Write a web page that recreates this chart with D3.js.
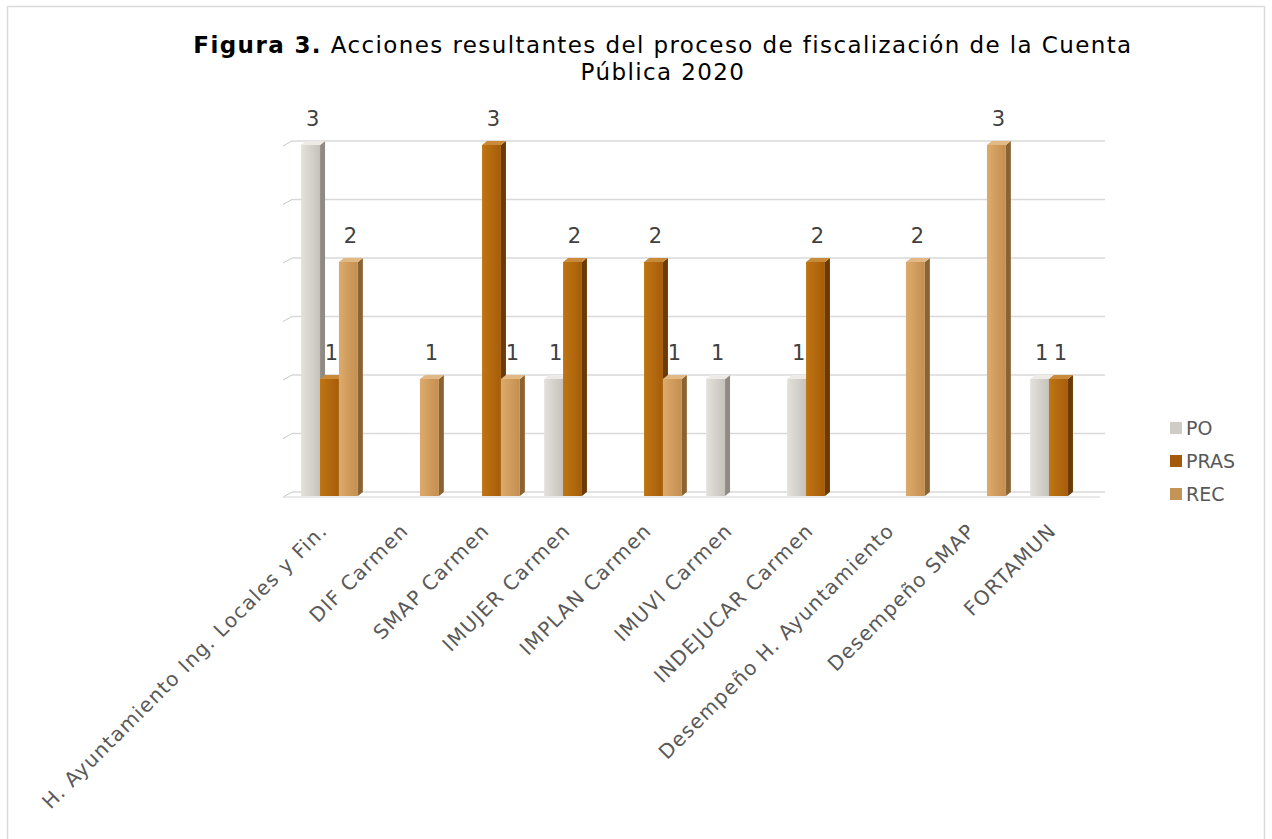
<!DOCTYPE html>
<html><head><meta charset="utf-8">
<script src="https://cdn.jsdelivr.net/npm/d3@7"></script>
<style>html,body{margin:0;padding:0;background:#fff;}svg{display:block;}</style>
</head><body>
<svg id="c" width="1272" height="839"></svg>
<script>
const categories = ["H. Ayuntamiento Ing. Locales y Fin.", "DIF Carmen", "SMAP Carmen", "IMUJER Carmen", "IMPLAN Carmen", "IMUVI Carmen", "INDEJUCAR Carmen", "Desempeño H. Ayuntamiento", "Desempeño SMAP", "FORTAMUN"];
const seriesNames = ["PO", "PRAS", "REC"];
const PO   = [3, null, null, 1, null, 1, 1, null, null, 1];
const PRAS = [1, null, 3, 2, 2, null, 2, null, null, 1];
const REC  = [2, 1, 1, null, 1, null, null, 2, 3, null];
const gridTicks = [0, 0.5, 1, 1.5, 2, 2.5, 3];

const values = [PO, PRAS, REC];
const colors = {
  PO:   {l:"#e4e1dc", r:"#c6c2bb", side:"#8f8b84", top:"#eeebe6", leg:"#cfcbc5"},
  PRAS: {l:"#bf7512", r:"#a65d0a", side:"#6a3b06", top:"#c98a3a", leg:"#a35a0b"},
  REC:  {l:"#dcab6c", r:"#c48e50", side:"#8a6332", top:"#e2b985", leg:"#c49356"}
};
const font = "'DejaVu Sans', sans-serif";
const svg = d3.select("#c");
const defs = svg.append("defs");
seriesNames.forEach(s => {
  const g = defs.append("linearGradient").attr("id","g"+s).attr("x1","0").attr("x2","1").attr("y1","0").attr("y2","0");
  g.append("stop").attr("offset","0").attr("stop-color",colors[s].l);
  g.append("stop").attr("offset","1").attr("stop-color",colors[s].r);
});

// outer border
svg.append("rect").attr("x",7.5).attr("y",6.5).attr("width",1257).attr("height",840)
  .attr("fill","none").attr("stroke","#d9d9d9").attr("stroke-width",1.5);

// title
const title = svg.append("text").attr("x",663).attr("y",53).attr("text-anchor","middle")
  .style("font-family",font).style("font-size","23px").style("letter-spacing","1.4px").attr("fill","#000");
title.append("tspan").attr("font-weight","bold").text("Figura 3.");
title.append("tspan").text(" Acciones resultantes del proceso de fiscalización de la Cuenta");
svg.append("text").attr("x",663).attr("y",80).attr("text-anchor","middle")
  .style("font-family",font).style("font-size","23px").style("letter-spacing","1.4px").attr("fill","#000").text("Pública 2020");

const x = d3.scaleBand().domain(categories).range([289, 1099]).paddingInner(0.3).paddingOuter(0.15);
const xs = d3.scaleBand().domain(seriesNames).range([0, x.bandwidth()]);
const y = d3.scaleLinear().domain([0, 3]).range([496, 145]);
const dx = 5, dy = 4;

// gridlines (back wall) with small slanted depth ticks
gridTicks.forEach(t => {
  const yy = y(t) - dy;
  svg.append("line").attr("x1",292).attr("x2",1105).attr("y1",yy).attr("y2",yy)
    .attr("stroke","#d9d9d9").attr("stroke-width",1.3);
  svg.append("line").attr("x1",283).attr("x2",292).attr("y1",yy+5).attr("y2",yy)
    .attr("stroke","#c8c8c8").attr("stroke-width",1);
});
svg.append("line").attr("x1",283).attr("x2",1100).attr("y1",y(0)+1).attr("y2",y(0)+1)
  .attr("stroke","#e2e2e2").attr("stroke-width",1.5);

// bars
const bars = [];
categories.forEach((c, i) => {
  seriesNames.forEach((s, k) => {
    const v = values[k][i];
    if (v != null) bars.push({c, s, v});
  });
});
const bw = xs.bandwidth();
const gb = svg.append("g");
bars.forEach(d => {
  const x0 = x(d.c) + xs(d.s), x1 = x0 + bw, y0 = y(d.v), yb = y(0);
  gb.append("path").attr("d", `M${x1},${y0} L${x1+dx},${y0-dy} L${x1+dx},${yb-dy} L${x1},${yb} Z`)
    .attr("fill", colors[d.s].side);
  gb.append("path").attr("d", `M${x0},${y0} L${x0+dx},${y0-dy} L${x1+dx},${y0-dy} L${x1},${y0} Z`)
    .attr("fill", colors[d.s].top);
  gb.append("rect").attr("x", x0).attr("y", y0).attr("width", bw).attr("height", yb - y0)
    .attr("fill", `url(#g${d.s})`);
});
// data labels
bars.forEach(d => {
  svg.append("text").attr("x", x(d.c) + xs(d.s) + bw/2 + 2).attr("y", y(d.v) - 19)
    .attr("text-anchor","middle").style("font-family",font).style("font-size","21px")
    .attr("fill","#404040").text(d.v);
});

// category labels
categories.forEach(c => {
  const ax = x(c) + x.bandwidth()/2 - 1, ay = 532;
  svg.append("text").attr("transform",`translate(${ax},${ay}) rotate(-45)`)
    .attr("text-anchor","end").style("font-family",font).style("font-size","20px")
    .style("letter-spacing","1.2px")
    .attr("fill","#595959").text(c);
});

// legend
seriesNames.forEach((s, i) => {
  const ly = 428 + i*33;
  svg.append("rect").attr("x",1170).attr("y",ly-6).attr("width",12).attr("height",12).attr("fill",colors[s].leg);
  svg.append("text").attr("x",1186).attr("y",ly+7).style("font-family",font).style("font-size","19px")
    .attr("fill","#595959").text(s);
});
</script>
</body></html>
